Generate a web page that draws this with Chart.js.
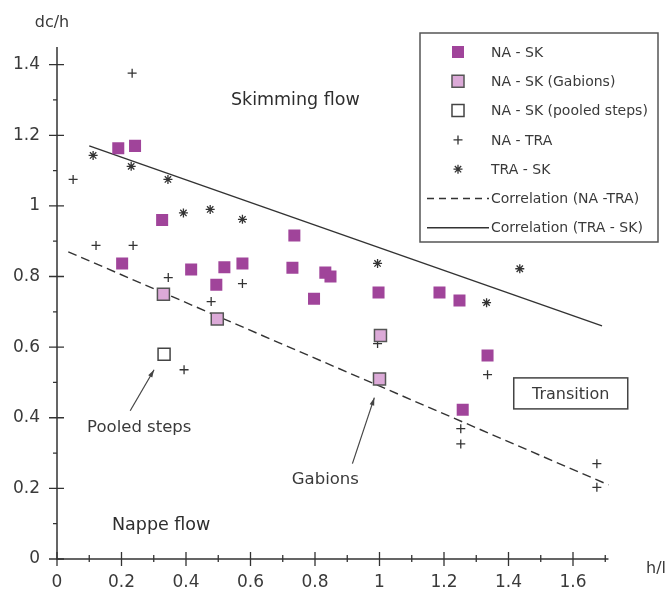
<!DOCTYPE html>
<html>
<head>
<meta charset="utf-8">
<script src="https://cdn.jsdelivr.net/npm/chart.js@4.4.1/dist/chart.umd.min.js"></script>
<style>
  html, body { margin: 0; padding: 0; background: #fff; }
  #wrap { width: 669px; height: 592px; }
</style>
</head>
<body>
<div id="wrap"><canvas id="chart" width="669" height="592"></canvas></div>
<script>
// values (x = h/l, y = dc/h)
const naSkX = [0.19, 0.242, 0.326, 0.202, 0.416, 0.519, 0.575, 0.494, 0.736, 0.730, 0.832, 0.848, 0.797, 0.997, 1.186, 1.248, 1.335, 1.258];
const naSkY = [1.163, 1.17, 0.96, 0.837, 0.82, 0.826, 0.837, 0.777, 0.916, 0.825, 0.811, 0.80, 0.737, 0.755, 0.755, 0.732, 0.576, 0.423];

const gabionsX = [0.33, 0.497, 1.003, 1.0];
const gabionsY = [0.75, 0.68, 0.633, 0.51];

const pooledX = [0.332];
const pooledY = [0.58];

const naTraX = [0.05, 0.233, 0.121, 0.236, 0.345, 0.575, 0.478, 0.394, 0.994, 1.335, 1.252, 1.252, 1.674, 1.674];
const naTraY = [1.075, 1.376, 0.888, 0.888, 0.797, 0.78, 0.729, 0.536, 0.61, 0.522, 0.369, 0.326, 0.27, 0.203];

const traSkX = [0.112, 0.23, 0.344, 0.392, 0.475, 0.575, 0.994, 1.435, 1.332];
const traSkY = [1.143, 1.112, 1.075, 0.98, 0.99, 0.962, 0.837, 0.822, 0.726];

const corrNaTraX = [0.035, 1.71];
const corrNaTraY = [0.87, 0.21];

const corrTraSkX = [0.1, 1.69];
const corrTraSkY = [1.17, 0.66];

const xTicks = [0, 0.2, 0.4, 0.6, 0.8, 1, 1.2, 1.4, 1.6];
const xTickLabels = ['0', '0.2', '0.4', '0.6', '0.8', '1', '1.2', '1.4', '1.6'];
const yTicks = [0, 0.2, 0.4, 0.6, 0.8, 1, 1.2, 1.4];
const yTickLabels = ['0', '0.2', '0.4', '0.6', '0.8', '1', '1.2', '1.4'];
const xMinor = [0.1, 0.3, 0.5, 0.7, 0.9, 1.1, 1.3, 1.5, 1.7];
const yMinor = [0.1, 0.3, 0.5, 0.7, 0.9, 1.1, 1.3];

const FONT = '"DejaVu Sans", "Noto Sans", sans-serif';
const INK = '#3a3a3a';
const PURPLE = '#a0449a';
const LILAC = '#dcaad8';

const pts = (xs, ys) => xs.map((x, i) => ({ x: x, y: ys[i] }));

// axes, ticks and labels drawn through the chart's own scales
const axesPlugin = {
    id: 'axesPlugin',
    beforeDatasetsDraw(chart) {
        const ctx = chart.ctx;
        const xs = chart.scales.x, ys = chart.scales.y;
        const x0 = xs.getPixelForValue(0), y0 = ys.getPixelForValue(0);
        ctx.save();
        ctx.strokeStyle = '#333';
        ctx.lineWidth = 1.5;
        ctx.beginPath();
        ctx.moveTo(x0, ys.getPixelForValue(1.45));
        ctx.lineTo(x0, y0);
        ctx.lineTo(xs.getPixelForValue(1.71), y0);
        ctx.stroke();

        ctx.lineWidth = 1.3;
        ctx.beginPath();
        xTicks.forEach(v => { const p = xs.getPixelForValue(v); ctx.moveTo(p, y0 - 7); ctx.lineTo(p, y0 + 7); });
        xMinor.forEach(v => { const p = xs.getPixelForValue(v); ctx.moveTo(p, y0 - 4); ctx.lineTo(p, y0 + 3); });
        yTicks.forEach(v => { const p = ys.getPixelForValue(v); ctx.moveTo(x0 - 8, p); ctx.lineTo(x0 + 7, p); });
        yMinor.forEach(v => { const p = ys.getPixelForValue(v); ctx.moveTo(x0 - 4, p); ctx.lineTo(x0, p); });
        ctx.stroke();

        ctx.fillStyle = INK;
        ctx.font = '17px ' + FONT;
        ctx.textAlign = 'center';
        ctx.textBaseline = 'middle';
        xTicks.forEach((v, i) => ctx.fillText(xTickLabels[i], xs.getPixelForValue(v), 583));
        ctx.textAlign = 'right';
        yTicks.forEach((v, i) => ctx.fillText(yTickLabels[i], 40, ys.getPixelForValue(v)));

        ctx.font = '16px ' + FONT;
        ctx.textAlign = 'center';
        ctx.fillText('dc/h', 52, 23);
        ctx.textAlign = 'left';
        ctx.fillText('h/l', 646, 569);
        ctx.restore();
    },
    afterDatasetsDraw(chart) {
        const ctx = chart.ctx;
        const xs = chart.scales.x, ys = chart.scales.y;
        const px = v => xs.getPixelForValue(v), py = v => ys.getPixelForValue(v);
        ctx.save();
        ctx.fillStyle = '#2e2e2e';
        ctx.textAlign = 'center';
        ctx.textBaseline = 'middle';
        ctx.font = '17.5px ' + FONT;
        ctx.fillText('Skimming flow', px(0.739), py(1.299));
        ctx.fillText('Nappe flow', px(0.323), py(0.094));
        ctx.fillStyle = INK;
        ctx.font = '16.5px ' + FONT;
        ctx.fillText('Pooled steps', px(0.255), py(0.372));
        ctx.fillText('Gabions', px(0.832), py(0.224));

        // Transition box
        const tx = px(1.593), ty = py(0.469);
        ctx.strokeStyle = '#444';
        ctx.lineWidth = 1.5;
        ctx.strokeRect(tx - 57, ty - 15.5, 114, 31);
        ctx.font = '16px ' + FONT;
        ctx.fillText('Transition', tx, ty + 1);

        const arrow = (x1, y1, x2, y2) => {
            const a = px(x1), b = py(y1), c = px(x2), d = py(y2);
            const ang = Math.atan2(d - b, c - a);
            ctx.strokeStyle = '#444';
            ctx.lineWidth = 1.2;
            ctx.beginPath(); ctx.moveTo(a, b); ctx.lineTo(c, d); ctx.stroke();
            ctx.fillStyle = '#444';
            ctx.beginPath();
            ctx.moveTo(c, d);
            ctx.lineTo(c - 8 * Math.cos(ang - 0.3), d - 8 * Math.sin(ang - 0.3));
            ctx.lineTo(c - 8 * Math.cos(ang + 0.3), d - 8 * Math.sin(ang + 0.3));
            ctx.closePath(); ctx.fill();
        };
        arrow(0.227, 0.42, 0.301, 0.536);
        arrow(0.916, 0.27, 0.984, 0.457);

        // legend
        const bx = 420, by = 33, bw = 238, bh = 209;
        ctx.fillStyle = '#fff';
        ctx.fillRect(bx, by, bw, bh);
        ctx.strokeStyle = '#555';
        ctx.lineWidth = 1.5;
        ctx.strokeRect(bx, by, bw, bh);
        ctx.font = '14px ' + FONT;
        ctx.textAlign = 'left';
        chart.data.datasets.forEach((ds, i) => {
            const cy = 52 + i * 29.3;
            if (ds.showLine) {
                ctx.strokeStyle = ds.borderColor;
                ctx.lineWidth = ds.borderWidth;
                ctx.setLineDash(ds.borderDash ? [7, 5] : []);
                ctx.beginPath(); ctx.moveTo(427, cy); ctx.lineTo(489, cy); ctx.stroke();
                ctx.setLineDash([]);
            } else {
                ctx.fillStyle = ds.backgroundColor;
                ctx.strokeStyle = ds.borderColor;
                ctx.lineWidth = ds.borderWidth;
                Chart.helpers.drawPoint(ctx, { pointStyle: ds.pointStyle, radius: ds.pointRadius, rotation: 0, borderWidth: ds.borderWidth }, 458, cy);
            }
            ctx.fillStyle = INK;
            ctx.fillText(ds.label, 491, cy + 1);
        });
        ctx.restore();
    }
};

new Chart(document.getElementById('chart'), {
    type: 'scatter',
    data: {
        datasets: [
            { label: 'NA - SK', data: pts(naSkX, naSkY), pointStyle: 'rect', pointRadius: 8.5, backgroundColor: PURPLE, borderColor: PURPLE, borderWidth: 0 },
            { label: 'NA - SK (Gabions)', data: pts(gabionsX, gabionsY), pointStyle: 'rect', pointRadius: 8.5, backgroundColor: LILAC, borderColor: '#555', borderWidth: 1.5 },
            { label: 'NA - SK (pooled steps)', data: pts(pooledX, pooledY), pointStyle: 'rect', pointRadius: 8.5, backgroundColor: '#fff', borderColor: '#444', borderWidth: 1.5 },
            { label: 'NA - TRA', data: pts(naTraX, naTraY), pointStyle: 'cross', pointRadius: 4.5, backgroundColor: '#333', borderColor: '#333', borderWidth: 1.3 },
            { label: 'TRA - SK', data: pts(traSkX, traSkY), pointStyle: 'star', pointRadius: 4.5, backgroundColor: '#333', borderColor: '#333', borderWidth: 1.3 },
            { label: 'Correlation (NA -TRA)', data: pts(corrNaTraX, corrNaTraY), showLine: true, pointRadius: 0, borderColor: '#333', borderWidth: 1.4, borderDash: [9, 5], clip: false },
            { label: 'Correlation (TRA - SK)', data: pts(corrTraSkX, corrTraSkY), showLine: true, pointRadius: 0, borderColor: '#333', borderWidth: 1.4, clip: false }
        ]
    },
    options: {
        responsive: false,
        animation: false,
        layout: { padding: { left: 57, top: 47, right: 57.3, bottom: 33 } },
        plugins: { legend: { display: false }, tooltip: { enabled: false } },
        scales: {
            x: { type: 'linear', min: 0, max: 1.72, display: false },
            y: { type: 'linear', min: 0, max: 1.45, display: false }
        }
    },
    plugins: [axesPlugin]
});
</script>
</body>
</html>
